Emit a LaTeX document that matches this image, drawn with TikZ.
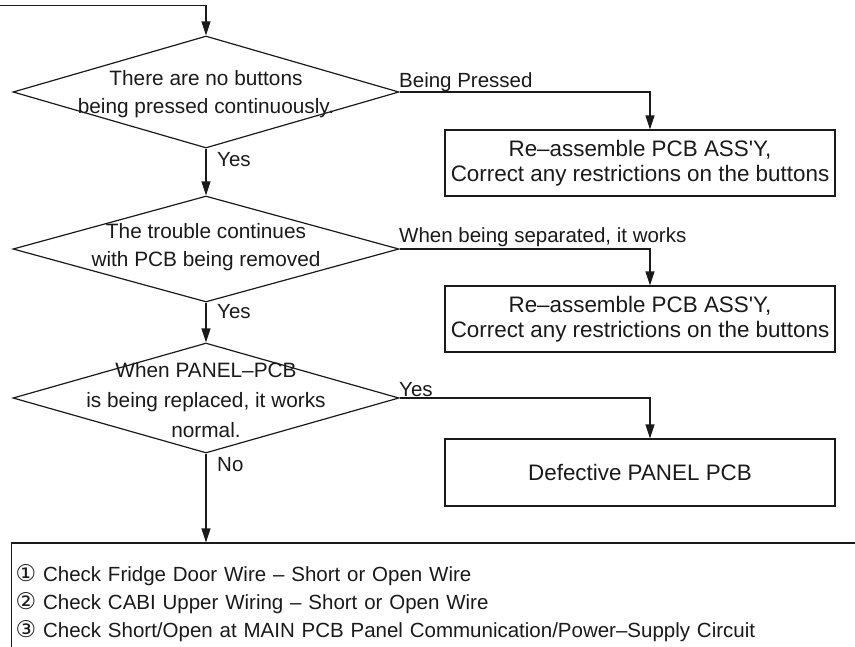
\documentclass[tikz,border=0pt]{standalone}
\usepackage{fontspec}
\setmainfont{Liberation Sans}
\newfontfamily\symf{DejaVu Sans}
\usetikzlibrary{shapes.geometric,arrows.meta}
\definecolor{ink}{HTML}{1A1A1A}
\newcommand{\circnum}[1]{{\symf\fontsize{23}{28}\selectfont #1}}
\tikzset{
  every picture/.style={x=1pt,y=-1pt},
  conn/.style={draw=ink,line width=1.2pt,-{Triangle[length=14pt,width=9pt]}},
  dia/.style={shape=diamond,draw=ink,line width=1.2pt,inner sep=0pt,minimum width=386pt},
  txt/.style={text=ink,align=center,font=\fontsize{20.8}{28}\selectfont,inner sep=0pt},
  lbl/.style={text=ink,font=\fontsize{20.5}{24}\selectfont,inner sep=0pt},
  resbox/.style={draw=ink,line width=1.2pt,minimum width=390pt,align=center,text=ink,font=\fontsize{22.4}{25.5}\selectfont,inner sep=0pt},
  mainbox/.style={draw=ink,line width=1.2pt,minimum width=859pt,minimum height=120pt,text width=851pt,inner sep=4pt,align=left,text=ink,font=\fontsize{20.5}{28}\selectfont}
}
\begin{document}
\begin{tikzpicture}
\useasboundingbox (0,0) rectangle (855,646);
\clip (0,0) rectangle (855,646);
% decisions
\node[dia,minimum height=112pt] (d1) at (206,92) {};
\node[txt] (t1) at (206,94) {There are no buttons\\being pressed continuously.};
\node[dia,minimum height=106pt] (d2) at (206,249) {};
\node[txt] (t2) at (206,247) {The trouble continues\\with PCB being removed};
\node[dia,minimum height=110pt] (d3) at (206,398) {};
\node[txt,font=\fontsize{20.8}{30}\selectfont] (t3) at (206,400) {When PANEL–PCB\\is being replaced, it works\\normal.};
% result boxes
\node[resbox,minimum height=66pt] (b1) at (640,163) {Re–assemble PCB ASS\textquotesingle Y,\\Correct any restrictions on the buttons};
\node[resbox,minimum height=66pt] (b2) at (640,319) {Re–assemble PCB ASS\textquotesingle Y,\\Correct any restrictions on the buttons};
\node[resbox,minimum height=67pt] (b3) at (640,472.5) {Defective PANEL PCB};
\node[mainbox,anchor=west] (m) at (11,603) {\circnum{①} Check Fridge Door Wire – Short or Open Wire\\\circnum{②} Check CABI Upper Wiring – Short or Open Wire\\\circnum{③} Check Short/Open at MAIN PCB Panel Communication/Power–Supply Circuit};
% connectors
\coordinate (start) at (0,5.5);
\draw[conn] (start) -| (d1.north);
\draw[conn] (d1.south) -- (d2.north);
\draw[conn] (d2.south) -- (d3.north);
\draw[conn] (d3.south) -- (d3.south |- m.north);
\draw[conn] (d1.east) -| ([xshift=10pt]b1.north);
\draw[conn] (d2.east) -| ([xshift=10pt]b2.north);
\draw[conn] (d3.east) -| ([xshift=10pt]b3.north);
% labels
\node[lbl,anchor=base west] (l1) at (399,87) {Being Pressed};
\node[lbl,anchor=base west] (l2) at (399,242) {When being separated, it works};
\node[lbl,anchor=base west] (l3) at (399,396) {Yes};
\node[lbl,anchor=west] (y1) at (217,160) {Yes};
\node[lbl,anchor=west] (y2) at (217,312) {Yes};
\node[lbl,anchor=west] (n1) at (217,465) {No};
\end{tikzpicture}
\end{document}
